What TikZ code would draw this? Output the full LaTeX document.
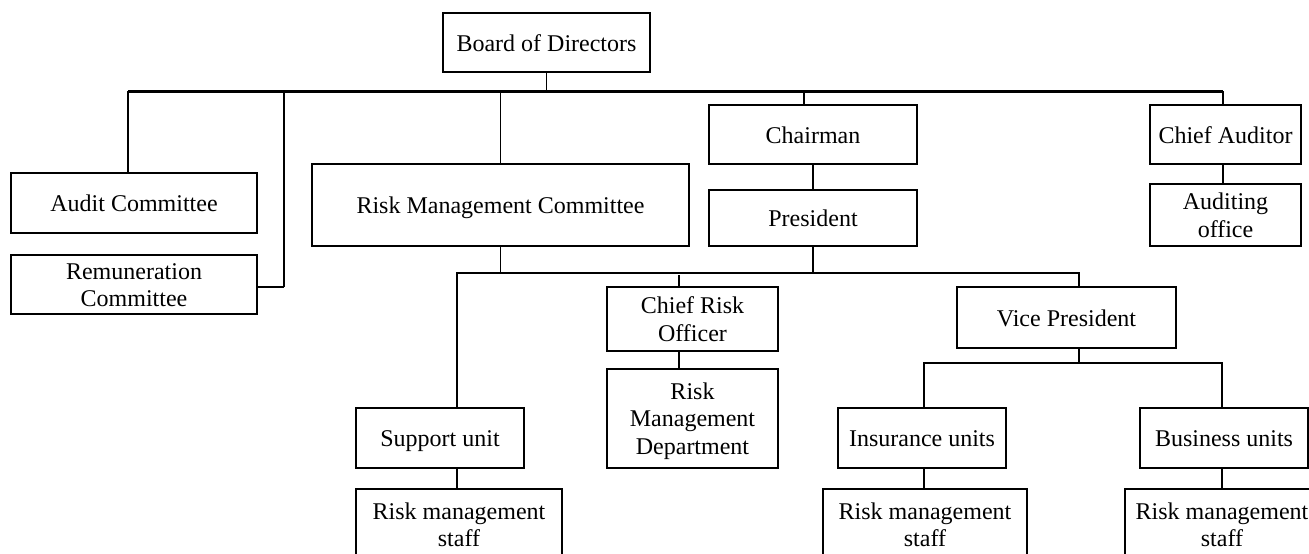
\documentclass[tikz,border=0pt]{standalone}
\usepackage{fontspec}
\setmainfont{Liberation Serif}
\newcommand\mystrut{\rule[-4.4pt]{0pt}{25.8pt}}
\newcommand\mybox[6]{\node[orgbox,minimum width={#4-#2},minimum height={#5-#3}] (#1) at ({(#2+#4)/2},{-(#3+#5)/2}) {#6};}
\tikzset{
  orgbox/.style={draw, line width=1.6pt, inner sep=0pt, outer sep=0pt, align=center, font=\fontsize{24}{27.5}\selectfont},
  conn/.style={line width=1.3pt},
  midline/.style={line width=1.9pt},
  heavy/.style={line width=2.6pt},
  busline/.style={line width=3pt}
}
\begin{document}
\begin{tikzpicture}[x=1pt,y=1pt]
\useasboundingbox (0,0) rectangle (1309,-554);
\clip (0,0) rectangle (1309,-554);
% boxes
\mybox{board}{443}{13}{650}{72}{\mystrut Board of Directors}
\mybox{audit}{11}{173}{257}{233}{\mystrut Audit Committee}
\mybox{remun}{11}{255}{257}{314}{\mystrut Remuneration\\\mystrut Committee}
\mybox{rmc}{312}{164}{689}{246}{\mystrut Risk Management Committee}
\mybox{chair}{709}{105}{917}{164}{\mystrut Chairman}
\mybox{pres}{709}{190}{917}{246}{\mystrut President}
\mybox{chiefaud}{1150}{105}{1301}{164}{\mystrut Chief Auditor}
\mybox{audoff}{1150}{184}{1301}{246}{\mystrut Auditing\\\mystrut office}
\mybox{cro}{607}{287}{778}{351}{\mystrut Chief Risk\\\mystrut Officer}
\mybox{rmd}{607}{369}{778}{468}{\mystrut Risk\\\mystrut Management\\\mystrut Department}
\mybox{vp}{957}{287}{1176}{348}{\mystrut Vice President}
\mybox{support}{356}{408}{524}{468}{\mystrut Support unit}
\mybox{ins}{838}{408}{1006}{468}{\mystrut Insurance units}
\mybox{busu}{1140}{408}{1308}{468}{\mystrut Business units}
\mybox{sstaff}{356}{489}{562}{560}{\mystrut Risk management\\\mystrut staff}
\mybox{istaff}{823}{489}{1027}{560}{\mystrut Risk management\\\mystrut staff}
\mybox{bstaff}{1125}{489}{1319}{560}{\mystrut Risk management\\\mystrut staff}
% junction coordinates
\coordinate (busL) at (128,-91);
\coordinate (busR) at (1223,-91);
\coordinate (remx) at (284,-91);
\coordinate (remy) at (0,-287);
\coordinate (chx) at (804,-91);
\coordinate (lbL) at (457,-273);
\coordinate (lbR) at (1079,-273);
\coordinate (crox) at (679,-275);
\coordinate (vbL) at (924,-363);
\coordinate (vbR) at (1222,-363);
% top level
\draw[conn] (board.south) -- (board.south |- busL);
\draw[conn] (busL |- audit.north) -- (busL);
\draw[busline] (busL) -- (busR);
\draw[conn] (busR) -- (busR |- chiefaud.north);
\draw[conn] (remx) -- (remx |- remy);
\draw[midline] (remx |- remy) -- (remun.east |- remy);
\draw[conn] (rmc.north) -- (rmc.north |- busL);
\draw[conn] (chx) -- (chx |- chair.north);
\draw[conn] (chiefaud.south -| busR) -- (audoff.north -| busR);
\draw[heavy] (chair.south) -- (pres.north);
% second level
\draw[heavy] (pres.south) -- (pres.south |- lbL);
\draw[conn] (rmc.south) -- (rmc.south |- lbL);
\draw[midline] (lbL |- support.north) -- (lbL) -- (lbR) -- (lbR |- vp.north);
\draw[conn] (crox) -- (crox |- cro.north);
\draw[conn] (crox |- cro.south) -- (crox |- rmd.north);
\draw[conn] (lbL |- support.south) -- (lbL |- sstaff.north);
% vice president branch
\draw[midline] (lbR |- vp.south) -- (lbR |- vbL);
\draw[midline] (vbL |- ins.north) -- (vbL) -- (vbR) -- (vbR |- busu.north);
\draw[conn] (vbL |- ins.south) -- (vbL |- istaff.north);
\draw[conn] (vbR |- busu.south) -- (vbR |- bstaff.north);
\end{tikzpicture}
\end{document}
